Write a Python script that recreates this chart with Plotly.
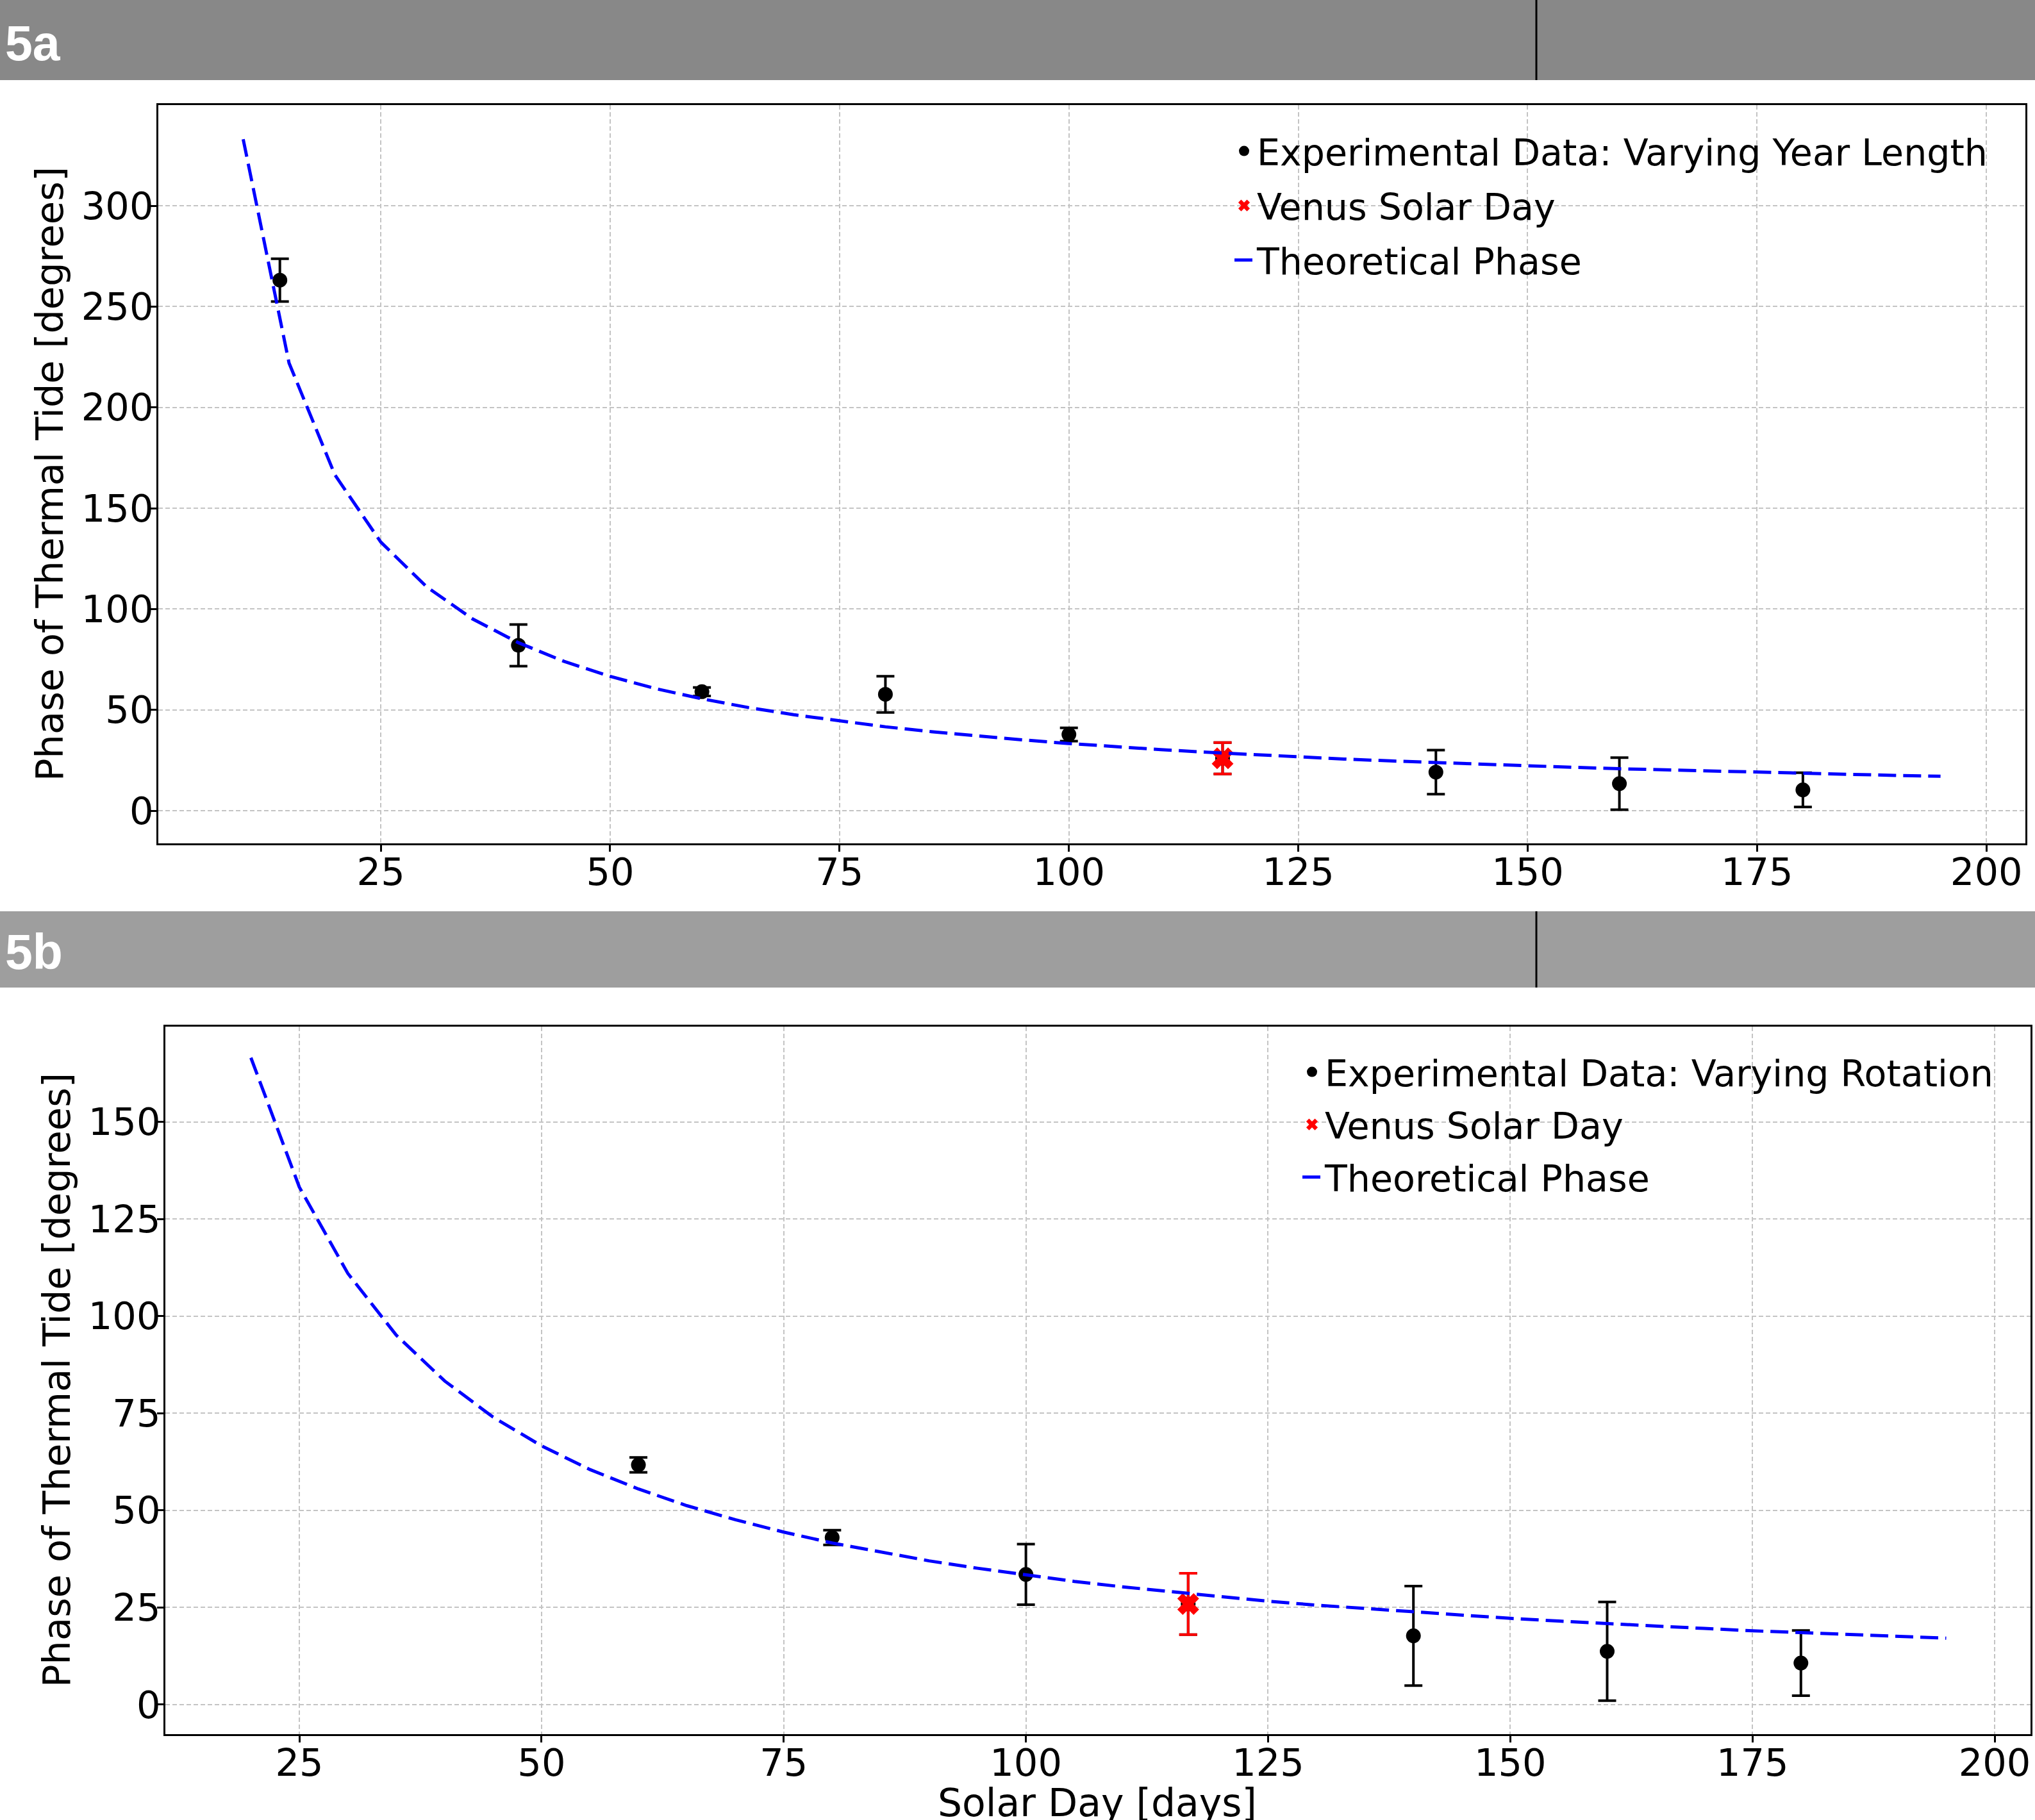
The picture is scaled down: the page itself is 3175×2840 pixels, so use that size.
import plotly.graph_objects as go

W, H = 3175, 2840

# ---------------- data ----------------
# Panel 5a: varying year length
exp_days_a = [14, 40, 60, 80, 100, 116.75, 140, 160, 180]
exp_phase_a = [263.1, 82.0, 59.0, 57.7, 37.8, 26.0, 19.1, 13.4, 10.3]
exp_err_a = [10.6, 10.3, 2.1, 9.0, 3.3, 7.8, 10.9, 12.9, 8.5]

venus_day_a = [116.75]
venus_phase_a = [26.0]
venus_err_a = [7.8]

theory_days_a = [10, 15, 20, 25, 30, 35, 40, 45, 50, 55, 60, 65, 70, 75, 80, 85, 90, 95, 100,
                 105, 110, 115, 120, 125, 130, 135, 140, 145, 150, 155, 160, 165, 170, 175,
                 180, 185, 190, 195]
theory_phase_a = [333.0, 222.0, 166.5, 133.2, 111.0, 95.1, 83.3, 74.0, 66.6, 60.5, 55.5, 51.2,
                  47.6, 44.4, 41.6, 39.2, 37.0, 35.1, 33.3, 31.7, 30.3, 29.0, 27.8, 26.6, 25.6,
                  24.7, 23.8, 23.0, 22.2, 21.5, 20.8, 20.2, 19.6, 19.0, 18.5, 18.0, 17.5, 17.1]

# Panel 5b: varying rotation
exp_days_b = [60, 80, 100, 116.75, 140, 160, 180]
exp_phase_b = [61.7, 43.0, 33.5, 25.9, 17.7, 13.7, 10.7]
exp_err_b = [1.9, 1.9, 7.8, 7.9, 12.8, 12.7, 8.4]

venus_day_b = [116.75]
venus_phase_b = [25.9]
venus_err_b = [7.9]

theory_days_b = [20, 25, 30, 35, 40, 45, 50, 55, 60, 65, 70, 75, 80, 85, 90, 95, 100,
                 105, 110, 115, 120, 125, 130, 135, 140, 145, 150, 155, 160, 165, 170, 175,
                 180, 185, 190, 195]
theory_phase_b = [166.5, 133.2, 111.0, 95.1, 83.3, 74.0, 66.6, 60.5, 55.5, 51.2,
                  47.6, 44.4, 41.6, 39.2, 37.0, 35.1, 33.3, 31.7, 30.3, 29.0, 27.8, 26.6, 25.6,
                  24.7, 23.8, 23.0, 22.2, 21.5, 20.8, 20.2, 19.6, 19.0, 18.5, 18.0, 17.5, 17.1]

labels_a = ["Experimental Data: Varying Year Length", "Venus Solar Day", "Theoretical Phase"]
labels_b = ["Experimental Data: Varying Rotation", "Venus Solar Day", "Theoretical Phase"]

x_ticks = [25, 50, 75, 100, 125, 150, 175, 200]
y_ticks_a = [0, 50, 100, 150, 200, 250, 300]
y_ticks_b = [0, 25, 50, 75, 100, 125, 150]

# ---------------- helpers ----------------
FONT = "DejaVu Sans"


def px(x):
    return x / W


def py(y):
    return 1 - y / H


def traces(days, phase, err, vd, vp, ve, td, tp, labels, xa, ya, legend):
    out = []
    out.append(go.Scatter(
        x=days, y=phase, mode="markers", name=labels[0],
        marker=dict(color="black", size=23, symbol="circle"),
        error_y=dict(type="data", array=err, visible=True, color="black",
                     thickness=4, width=14),
        xaxis=xa, yaxis=ya, legend=legend, legendgroup=legend + "e"))
    out.append(go.Scatter(
        x=vd, y=vp, mode="markers", name=labels[1],
        marker=dict(color="#ff0000", size=30, symbol="x"),
        error_y=dict(type="data", array=ve, visible=True, color="#ff0000",
                     thickness=4, width=14),
        xaxis=xa, yaxis=ya, legend=legend, legendgroup=legend + "v"))
    out.append(go.Scatter(
        x=td, y=tp, mode="lines", name=labels[2],
        line=dict(color="#0000ff", width=5, dash="28px,11px"),
        xaxis=xa, yaxis=ya, legend=legend, legendgroup=legend + "t"))
    return out


fig = go.Figure()
for t in traces(exp_days_a, exp_phase_a, exp_err_a, venus_day_a, venus_phase_a, venus_err_a,
                theory_days_a, theory_phase_a, labels_a, "x", "y", "legend"):
    fig.add_trace(t)
for t in traces(exp_days_b, exp_phase_b, exp_err_b, venus_day_b, venus_phase_b, venus_err_b,
                theory_days_b, theory_phase_b, labels_b, "x2", "y2", "legend2"):
    fig.add_trace(t)

axis_common = dict(
    showline=True, linecolor="black", linewidth=2.5, mirror=True,
    ticks="outside", ticklen=10, tickwidth=2.5, tickcolor="black",
    showgrid=True, gridcolor="#c4c4c4", gridwidth=2, griddash="7px,4px",
    zeroline=False,
    tickfont=dict(family=FONT, size=59, color="black"),
)

fig.update_layout(
    width=W, height=H,
    margin=dict(l=0, r=0, t=0, b=0),
    paper_bgcolor="white", plot_bgcolor="white",
    font=dict(family=FONT, color="black"),
    xaxis=dict(domain=[px(247), px(3160)], range=[0.75, 204.25], tickvals=x_ticks,
               anchor="y", ticklabelstandoff=-19, **axis_common),
    yaxis=dict(domain=[py(1316), py(164)], range=[-16.2, 349.9], tickvals=y_ticks_a,
               anchor="x", ticklabelstandoff=-17, **axis_common),
    xaxis2=dict(domain=[px(258), px(3168)], range=[11.17, 203.7], tickvals=x_ticks,
                anchor="y2", ticklabelstandoff=-19, **axis_common),
    yaxis2=dict(domain=[py(2706), py(1602)], range=[-7.6, 174.5], tickvals=y_ticks_b,
                anchor="x2", ticklabelstandoff=-17, **axis_common),
    legend=dict(x=px(1921), y=py(192), xanchor="left", yanchor="top",
                bgcolor="rgba(0,0,0,0)", font=dict(family=FONT, size=57, color="black"),
                tracegroupgap=8, traceorder="grouped"),
    legend2=dict(x=px(2027), y=py(1629), xanchor="left", yanchor="top",
                 bgcolor="rgba(0,0,0,0)", font=dict(family=FONT, size=57, color="black"),
                 tracegroupgap=5, traceorder="grouped"),
    showlegend=True,
)

# header bands
shapes = [
    dict(type="rect", xref="paper", yref="paper", x0=0, x1=1, y0=py(125), y1=1,
         fillcolor="#888888", line=dict(width=0), layer="below"),
    dict(type="rect", xref="paper", yref="paper", x0=0, x1=1, y0=py(1541), y1=py(1422),
         fillcolor="#9e9e9e", line=dict(width=0), layer="below"),
    dict(type="line", xref="paper", yref="paper", x0=px(2397), x1=px(2397), y0=py(125), y1=1,
         line=dict(color="black", width=3)),
    dict(type="line", xref="paper", yref="paper", x0=px(2397), x1=px(2397), y0=py(1541), y1=py(1422),
         line=dict(color="black", width=3)),
]
fig.update_layout(shapes=shapes)

annotations = [
    dict(text="<b>5a</b>", xref="paper", yref="paper", x=px(6), y=py(67), xanchor="left",
         yanchor="middle", showarrow=False,
         font=dict(family="Liberation Sans", size=77, color="white")),
    dict(text="<b>5b</b>", xref="paper", yref="paper", x=px(6), y=py(1485), xanchor="left",
         yanchor="middle", showarrow=False,
         font=dict(family="Liberation Sans", size=77, color="white")),
    dict(text="Phase of Thermal Tide [degrees]", xref="paper", yref="paper", x=px(77), y=py(740),
         xanchor="center", yanchor="middle", textangle=-90, showarrow=False,
         font=dict(family=FONT, size=59, color="black")),
    dict(text="Phase of Thermal Tide [degrees]", xref="paper", yref="paper", x=px(88), y=py(2154),
         xanchor="center", yanchor="middle", textangle=-90, showarrow=False,
         font=dict(family=FONT, size=59, color="black")),
    dict(text="Solar Day [days]", xref="paper", yref="paper", x=px(1712), y=py(2813),
         xanchor="center", yanchor="middle", showarrow=False,
         font=dict(family=FONT, size=60, color="black")),
]
fig.update_layout(annotations=annotations)

fig.write_html("out.html", config={"displayModeBar": False},
               post_script="document.body.style.margin='0px';document.body.style.padding='0px';")
